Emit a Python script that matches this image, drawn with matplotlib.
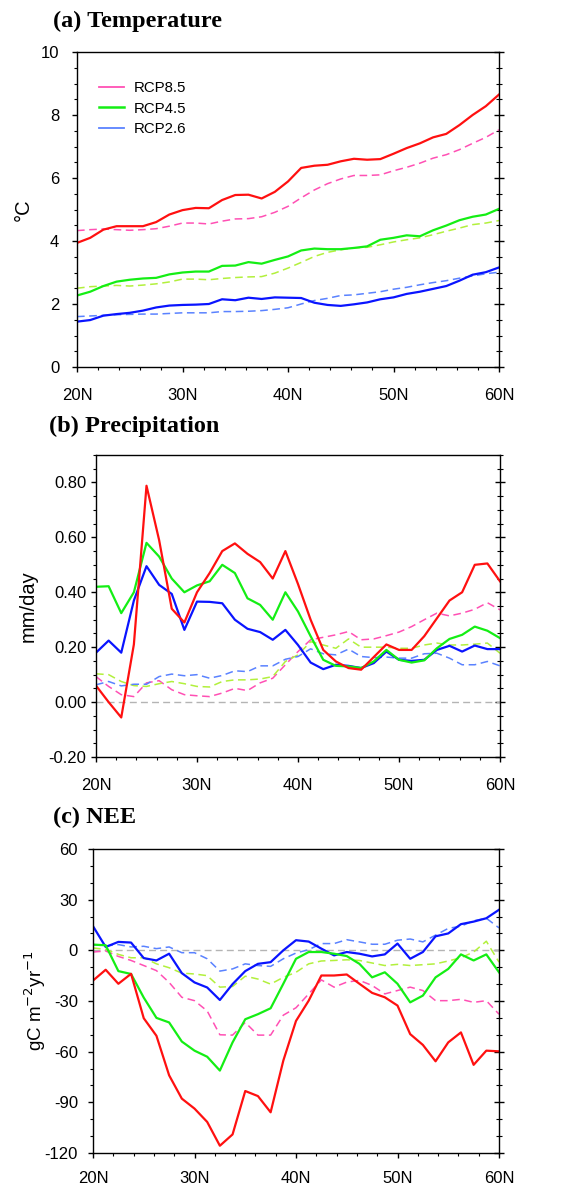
import numpy as np
import matplotlib
matplotlib.use('Agg')
from matplotlib import pyplot as plt
from matplotlib.lines import Line2D
from matplotlib.ticker import MultipleLocator, FixedLocator, FuncFormatter

# latitude grid, 1.25 deg spacing
lat = np.linspace(20, 60, 33)

# (a) temperature change, degC
t85 = [3.94, 4.10, 4.36, 4.47, 4.47, 4.47, 4.60, 4.84, 4.98, 5.05, 5.04, 5.30, 5.46,
       5.47, 5.35, 5.56, 5.89, 6.32, 6.39, 6.42, 6.53, 6.61, 6.58, 6.60, 6.77, 6.95,
       7.10, 7.29, 7.40, 7.68, 8.00, 8.28, 8.65]
t85d = [4.33, 4.36, 4.38, 4.36, 4.34, 4.36, 4.39, 4.47, 4.57, 4.57, 4.54, 4.63, 4.70,
        4.71, 4.77, 4.91, 5.10, 5.37, 5.62, 5.82, 5.97, 6.08, 6.08, 6.10, 6.23, 6.34,
        6.47, 6.63, 6.74, 6.90, 7.10, 7.29, 7.53]
t45 = [2.27, 2.39, 2.57, 2.71, 2.77, 2.81, 2.83, 2.94, 3.00, 3.03, 3.03, 3.21, 3.22,
       3.33, 3.28, 3.40, 3.51, 3.70, 3.76, 3.74, 3.74, 3.78, 3.83, 4.04, 4.10, 4.18,
       4.15, 4.34, 4.49, 4.66, 4.77, 4.84, 5.02]
t45d = [2.50, 2.55, 2.57, 2.59, 2.57, 2.60, 2.64, 2.70, 2.79, 2.79, 2.77, 2.81, 2.84,
        2.86, 2.87, 2.98, 3.14, 3.32, 3.51, 3.64, 3.72, 3.78, 3.80, 3.88, 3.97, 4.04,
        4.10, 4.20, 4.31, 4.41, 4.52, 4.57, 4.65]
t26 = [1.44, 1.49, 1.63, 1.68, 1.72, 1.79, 1.89, 1.95, 1.97, 1.98, 2.00, 2.15, 2.12,
       2.20, 2.16, 2.21, 2.20, 2.19, 2.04, 1.97, 1.94, 1.99, 2.05, 2.15, 2.21, 2.32,
       2.39, 2.48, 2.57, 2.74, 2.93, 3.01, 3.16]
t26d = [1.60, 1.62, 1.64, 1.66, 1.67, 1.68, 1.68, 1.70, 1.72, 1.72, 1.72, 1.76, 1.76,
        1.77, 1.79, 1.83, 1.88, 2.00, 2.11, 2.18, 2.27, 2.29, 2.34, 2.39, 2.47, 2.53,
        2.61, 2.68, 2.74, 2.82, 2.89, 2.96, 3.01]

# (b) precipitation change, mm/day
p85 = [0.06, 0.00, -0.056, 0.21, 0.788, 0.59, 0.34, 0.29, 0.40, 0.47, 0.55, 0.578,
       0.54, 0.51, 0.45, 0.55, 0.43, 0.30, 0.19, 0.148, 0.124, 0.118, 0.164, 0.21,
       0.19, 0.19, 0.24, 0.305, 0.37, 0.40, 0.50, 0.505, 0.44]
p85d = [0.093, 0.057, 0.027, 0.020, 0.070, 0.078, 0.045, 0.027, 0.023, 0.020, 0.033,
        0.050, 0.042, 0.070, 0.087, 0.136, 0.184, 0.227, 0.236, 0.245, 0.257, 0.227,
        0.230, 0.242, 0.255, 0.275, 0.300, 0.324, 0.314, 0.324, 0.338, 0.362, 0.336]
p45 = [0.42, 0.422, 0.324, 0.40, 0.58, 0.53, 0.45, 0.40, 0.425, 0.44, 0.50, 0.47,
       0.378, 0.354, 0.30, 0.40, 0.33, 0.24, 0.154, 0.132, 0.13, 0.124, 0.148, 0.19,
       0.154, 0.144, 0.152, 0.196, 0.23, 0.245, 0.275, 0.26, 0.233]
p45d = [0.103, 0.100, 0.075, 0.060, 0.057, 0.067, 0.075, 0.067, 0.057, 0.055, 0.075,
        0.081, 0.081, 0.084, 0.093, 0.148, 0.172, 0.220, 0.208, 0.196, 0.230, 0.200,
        0.200, 0.200, 0.196, 0.196, 0.208, 0.215, 0.208, 0.208, 0.211, 0.215, 0.178]
p26 = [0.18, 0.224, 0.18, 0.37, 0.495, 0.427, 0.394, 0.263, 0.366, 0.365, 0.36, 0.30,
       0.267, 0.255, 0.227, 0.263, 0.208, 0.144, 0.12, 0.136, 0.132, 0.124, 0.142,
       0.184, 0.154, 0.15, 0.154, 0.19, 0.205, 0.184, 0.206, 0.193, 0.193]
p26d = [0.063, 0.075, 0.059, 0.065, 0.065, 0.093, 0.102, 0.096, 0.100, 0.087, 0.097,
        0.114, 0.111, 0.132, 0.132, 0.156, 0.166, 0.194, 0.176, 0.172, 0.193, 0.166,
        0.162, 0.164, 0.160, 0.160, 0.176, 0.178, 0.160, 0.136, 0.136, 0.148, 0.132]

# (c) NEE change, gC m-2 yr-1
n85 = [-17.9, -11.5, -19.8, -13.9, -40.2, -50.6, -74.0, -87.8, -93.7, -101.6, -115.7,
       -109.0, -83.3, -86.3, -95.9, -65.3, -41.8, -29.8, -14.9, -14.9, -14.3, -19.8,
       -25.2, -27.8, -32.7, -49.6, -56.0, -65.7, -54.5, -48.6, -67.8, -59.4, -59.8]
n85d = [-1.0, -0.4, -3.6, -6.0, -9.0, -12.0, -19.0, -27.8, -29.8, -35.9, -50.0, -50.2,
        -42.7, -50.2, -50.2, -38.4, -34.0, -25.8, -17.5, -21.8, -18.8, -17.8, -20.8,
        -25.8, -23.8, -21.8, -23.8, -29.8, -29.8, -29.0, -30.8, -29.8, -37.8]
n45 = [3.4, 3.0, -12.3, -14.0, -28.0, -40.0, -42.7, -54.0, -59.4, -63.0, -71.2, -54.5,
       -40.8, -37.8, -34.3, -19.8, -5.0, -1.0, -1.0, -2.0, -3.4, -8.0, -16.0, -13.0,
       -19.8, -30.8, -26.8, -16.0, -11.0, -2.4, -6.0, -2.4, -13.0]
n45d = [1.4, 0.6, -2.4, -4.4, -4.4, -8.0, -10.3, -13.5, -14.0, -15.0, -21.8, -21.4,
        -15.3, -17.0, -20.0, -16.0, -13.0, -8.0, -6.3, -6.0, -5.6, -6.0, -7.5, -9.0,
        -8.3, -9.0, -8.5, -8.0, -6.3, -4.4, -1.0, 5.4, -7.0]
n26 = [14.3, 2.0, 5.0, 4.6, -4.6, -6.0, -2.0, -13.5, -19.0, -22.0, -29.4, -20.0, -12.3,
       -8.0, -7.0, 0.0, 6.0, 5.2, 1.0, -3.0, -1.0, -2.0, -3.6, -2.4, 4.0, -5.0, -1.0,
       8.3, 10.0, 15.5, 17.0, 19.0, 24.0]
n26d = [3.4, 2.6, 3.4, 2.0, 2.4, 1.0, 2.0, -1.4, -1.4, -5.0, -12.3, -11.0, -8.0, -9.0,
        -9.5, -5.0, -1.6, 0.4, 4.0, 4.0, 6.3, 5.0, 3.6, 3.6, 6.0, 6.7, 5.0, 9.0, 13.0,
        14.3, 17.5, 19.0, 13.3]

c_red = '#ff1010'
c_pink = '#ff50b4'
c_green = '#14ee14'
c_lime = '#b2f03c'
c_blue = '#0a14ff'
c_lblue = '#5a82ff'

plt.rcParams['font.family'] = ['Liberation Sans', 'DejaVu Sans']
plt.rcParams['axes.linewidth'] = 1.0

fig = plt.figure(figsize=(5.86, 11.88), dpi=100)
W, H = 586., 1188.


def add_panel(l, t, r, b):
    return fig.add_axes([l / W, 1 - b / H, (r - l) / W, (b - t) / H])


def style(ax, ymin, ymax, major, minor, fmt, ypad, xpad):
    ax.set_xlim(20, 60)
    ax.set_ylim(ymin, ymax)
    ax.xaxis.set_major_locator(FixedLocator([20, 30, 40, 50, 60]))
    ax.xaxis.set_major_formatter(FuncFormatter(lambda v, p: '%dN' % v))
    ax.xaxis.set_minor_locator(MultipleLocator(2))
    ax.yaxis.set_major_locator(MultipleLocator(major))
    ax.yaxis.set_minor_locator(MultipleLocator(minor))
    ax.yaxis.set_major_formatter(FuncFormatter(lambda v, p: fmt % v))
    ax.tick_params(axis='x', which='both', direction='out', top=False)
    ax.tick_params(axis='x', which='major', length=3.8, width=1.0, labelsize=12, pad=xpad)
    ax.tick_params(axis='x', which='minor', length=2.2, width=0.8)
    ax.tick_params(axis='y', which='both', direction='out', right=False)
    ax.tick_params(axis='y', which='major', length=3.8, width=1.0, labelsize=12, pad=ypad)
    ax.tick_params(axis='y', which='minor', length=2.2, width=0.8)
    # right-hand ticks cross the frame
    sec = ax.secondary_yaxis('right')
    sec.yaxis.set_major_locator(MultipleLocator(major))
    sec.yaxis.set_minor_locator(MultipleLocator(minor))
    sec.tick_params(which='both', direction='inout', labelright=False)
    sec.tick_params(which='major', length=7, width=1.0)
    sec.tick_params(which='minor', length=4, width=0.8)
    sec.spines['right'].set_visible(False)


def draw(ax, s85, s85d, s45, s45d, s26, s26d):
    dash = dict(lw=1.1, dashes=(5, 3))
    ax.plot(lat, s85d, color=c_pink, **dash)
    ax.plot(lat, s45d, color=c_lime, **dash)
    ax.plot(lat, s26d, color=c_lblue, **dash)
    ax.plot(lat, s26, color=c_blue, lw=1.6)
    ax.plot(lat, s45, color=c_green, lw=1.6)
    ax.plot(lat, s85, color=c_red, lw=1.6)


title_kw = dict(family=['Liberation Serif', 'DejaVu Serif'], fontweight='bold',
                fontsize=17.5, va='center', ha='left')

# (a) Temperature
ax1 = add_panel(77, 52, 499, 367)
draw(ax1, t85, t85d, t45, t45d, t26, t26d)
style(ax1, 0, 10, 2, 0.5, '%d', 9, 11)
ax1.set_ylabel('\u00b0C', fontsize=14.5)
ax1.yaxis.set_label_coords(-0.105, 0.5)
handles = [Line2D([], [], color=c_pink, lw=1.3),
           Line2D([], [], color=c_green, lw=1.8),
           Line2D([], [], color=c_lblue, lw=1.3)]
ax1.legend(handles, ['RCP8.5', 'RCP4.5', 'RCP2.6'], loc='upper left',
           bbox_to_anchor=(0.052, 0.908), frameon=False, fontsize=10.8,
           handlelength=1.7, handletextpad=0.65, labelspacing=0.45,
           borderpad=0, borderaxespad=0)
fig.text(53 / W, 1 - 21 / H, '(a) Temperature', **title_kw)

# (b) Precipitation
ax2 = add_panel(96, 455, 500, 757)
ax2.axhline(0, color='#b4b4b4', lw=1.0, dashes=(5, 3))
draw(ax2, p85, p85d, p45, p45d, p26, p26d)
style(ax2, -0.2, 0.9, 0.2, 0.05, '%.2f', 3, 11)
ax2.set_ylabel('mm/day', fontsize=14.5)
ax2.yaxis.set_label_coords(-0.145, 0.5)
fig.text(49 / W, 1 - 426 / H, '(b) Precipitation', **title_kw)

# (c) NEE
ax3 = add_panel(93, 849, 499, 1153)
ax3.axhline(0, color='#b4b4b4', lw=1.0, dashes=(5, 3))
draw(ax3, n85, n85d, n45, n45d, n26, n26d)
style(ax3, -120, 60, 30, 10, '%d', 7, 9)
ax3.set_ylabel('gC m$^{-2}$yr$^{-1}$', fontsize=13.5)
ax3.yaxis.set_label_coords(-0.112, 0.5)
fig.text(53 / W, 1 - 817 / H, '(c) NEE', **title_kw)

plt.savefig('out.png', dpi=100)
